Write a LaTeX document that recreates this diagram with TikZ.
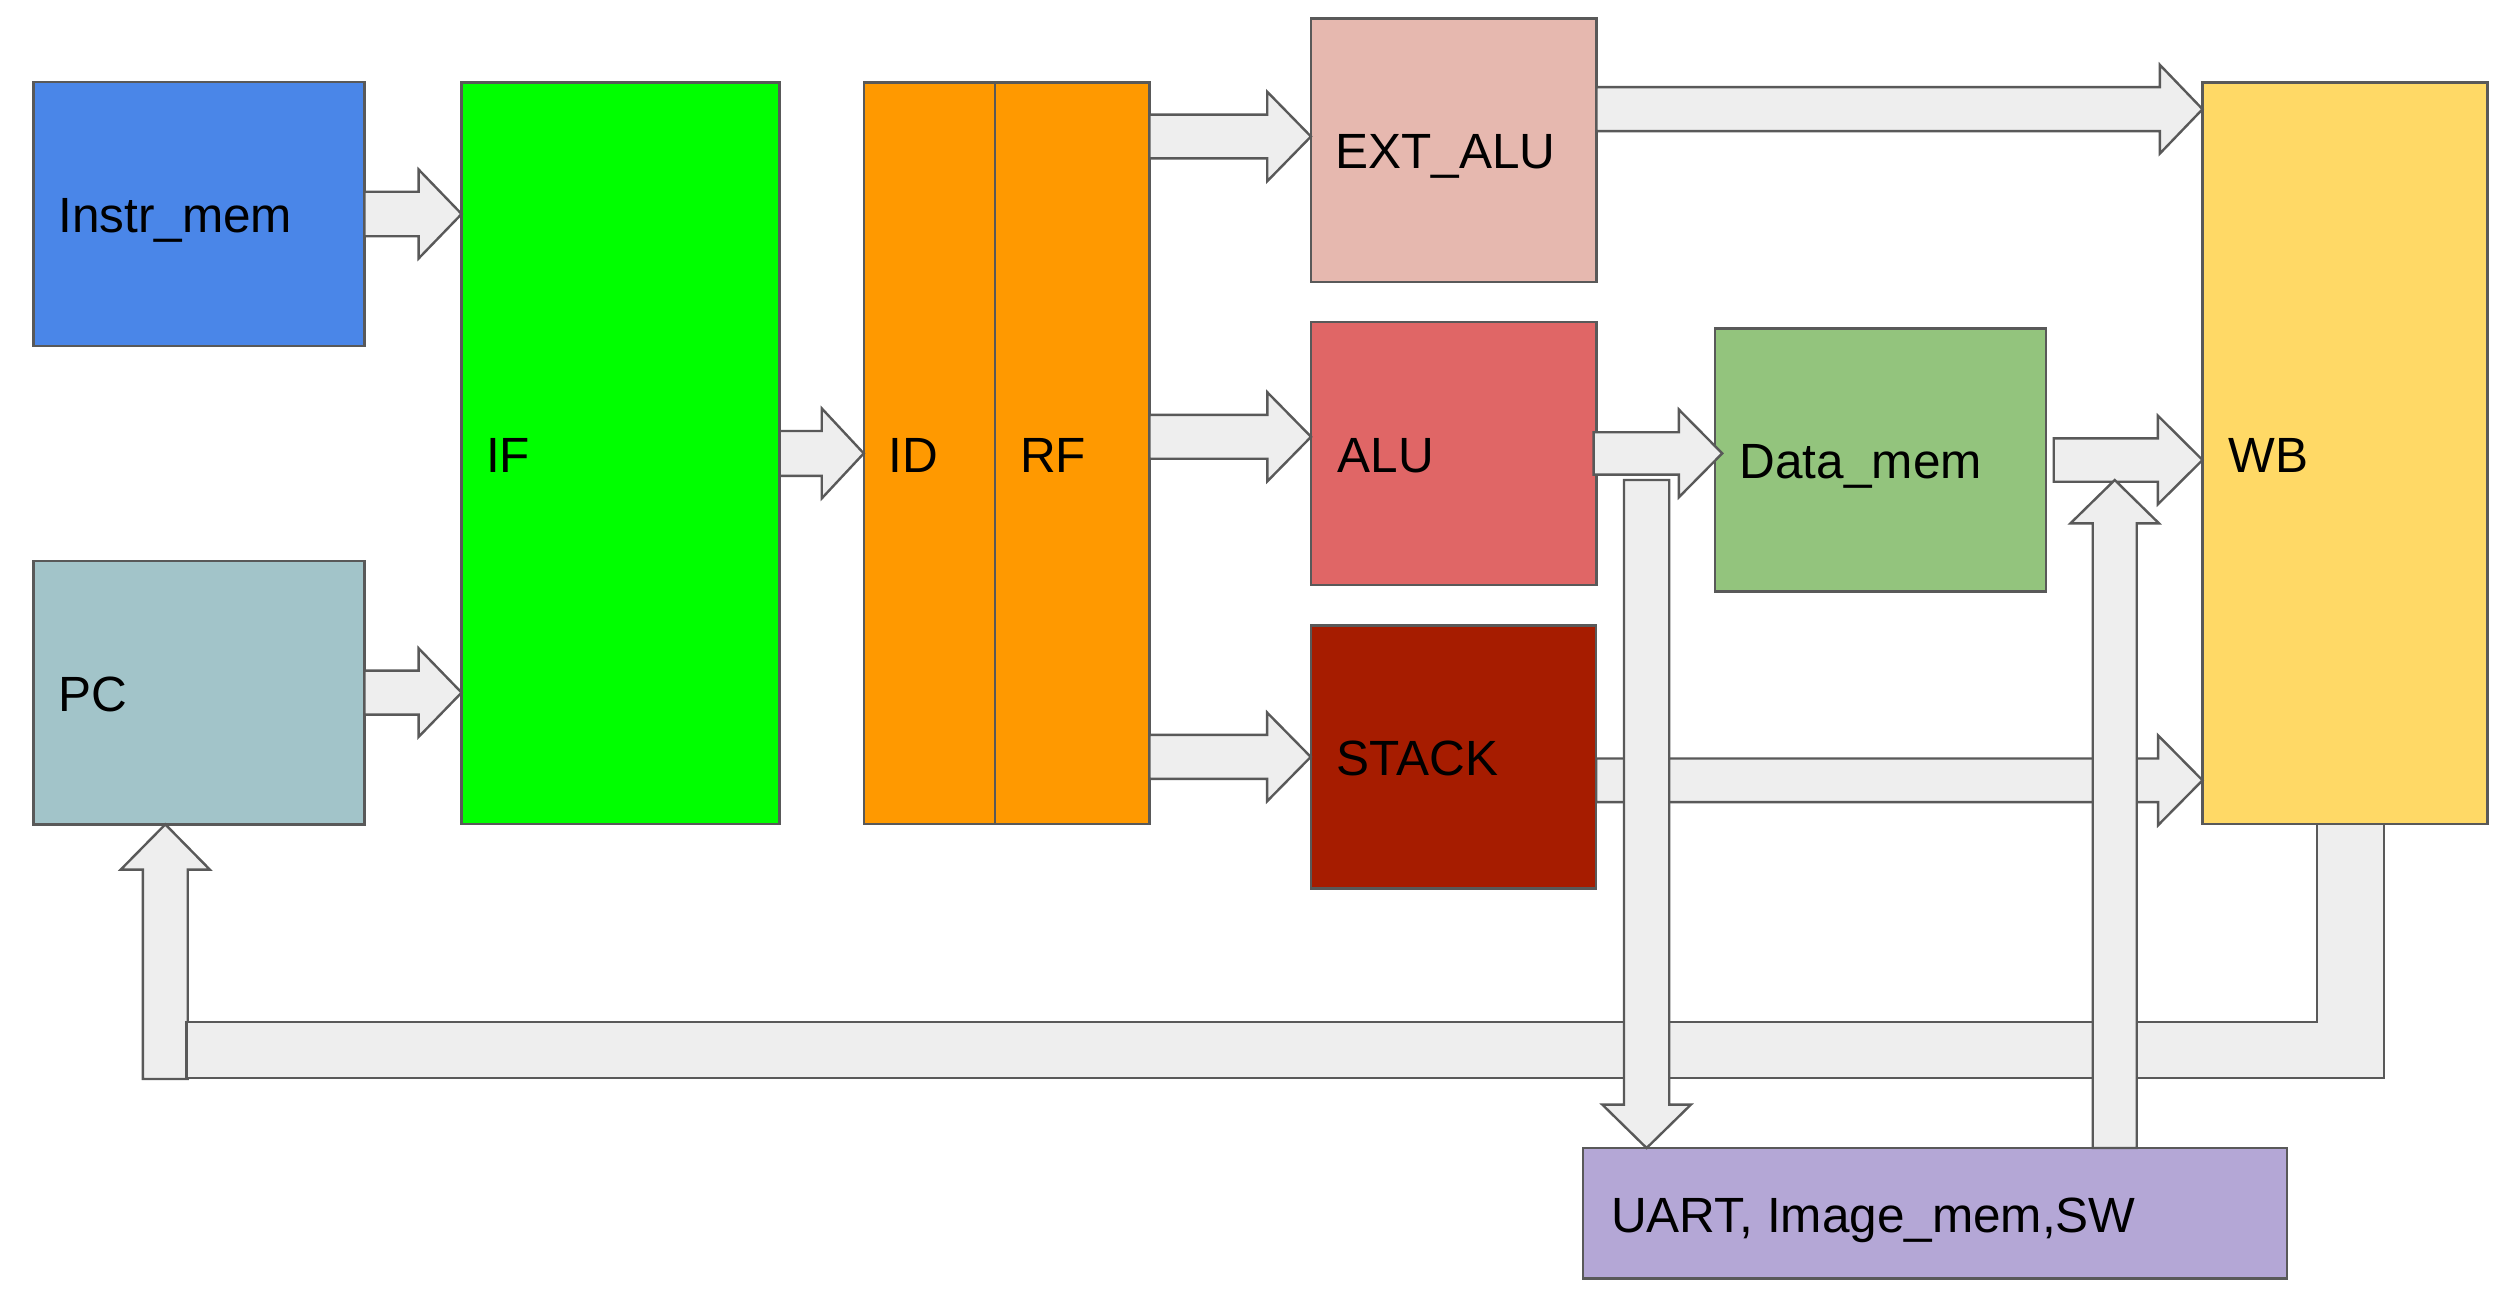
\documentclass[tikz,border=0pt]{standalone}
\usepackage{fontspec}
\setmainfont{Liberation Sans}
\usetikzlibrary{calc}
\definecolor{cLine}{HTML}{595959}
\definecolor{cArrow}{HTML}{EEEEEE}
\definecolor{cImem}{HTML}{4A86E8}
\definecolor{cIF}{HTML}{00FF00}
\definecolor{cID}{HTML}{FF9900}
\definecolor{cPC}{HTML}{A2C4C9}
\definecolor{cExt}{HTML}{E6B8AF}
\definecolor{cAlu}{HTML}{E06666}
\definecolor{cStack}{HTML}{A61C00}
\definecolor{cDmem}{HTML}{93C47D}
\definecolor{cWB}{HTML}{FFD966}
\definecolor{cUart}{HTML}{B4A7D6}
% #1 from, #2 tip, #3 shaft half width, #4 head half width, #5 head length
\newcommand{\blockarrow}[5]{%
  \coordinate (bab) at ($(#2)!#5!(#1)$);
  \draw[barrow] ($(#1)!#3!90:(#2)$) -- ($(bab)!#3!90:(#2)$) -- ($(bab)!#4!90:(#2)$) -- (#2)
     -- ($(bab)!#4!-90:(#2)$) -- ($(bab)!#3!-90:(#2)$) -- ($(#1)!#3!-90:(#2)$) -- cycle;
}
\begin{document}
\begin{tikzpicture}[x=1pt,y=-1pt,
  box/.style={draw=cLine, line width=2.4pt, rectangle, inner sep=0pt, outer sep=0pt},
  barrow/.style={draw=cLine, fill=cArrow, line width=2.4pt, line join=miter},
  lbl/.style={anchor=base west, inner sep=0pt, outer sep=0pt, font=\fontsize{49.5pt}{60pt}\selectfont}]
\useasboundingbox (0,0) rectangle (2513,1308);

% boxes
\node[box, fill=cImem, minimum width=331pt, minimum height=263.5pt] (imem) at (198.9,214) {};
\node[box, fill=cPC, minimum width=331pt, minimum height=263.5pt] (pc) at (198.8,692.6) {};
\node[box, fill=cIF, minimum width=318pt, minimum height=741.5pt] (if) at (620.6,453.4) {};
\node[box, fill=cID, minimum width=131.3pt, minimum height=741.5pt] (id) at (929.4,453.4) {};
\node[box, fill=cID, minimum width=154.3pt, minimum height=741.5pt] (rf) at (1072.2,453.4) {};
\node[box, fill=cExt, minimum width=285.5pt, minimum height=263.5pt] (extalu) at (1453.7,150.2) {};
\node[box, fill=cAlu, minimum width=285.5pt, minimum height=263pt] (alu) at (1453.8,453.4) {};
\node[box, fill=cStack, minimum width=285.5pt, minimum height=263pt] (stack) at (1453.5,756.9) {};
\node[box, fill=cDmem, minimum width=331pt, minimum height=263.3pt] (dmem) at (1880.7,460) {};
\node[box, fill=cWB, minimum width=285pt, minimum height=741.5pt] (wb) at (2345,453.4) {};
\node[box, fill=cUart, minimum width=704pt, minimum height=130.4pt] (uart) at (1934.7,1213.2) {};

% labels
\node[lbl] (imem-t) at ([xshift=25pt,yshift=-18.8pt]imem.west) {Instr\_mem};
\node[lbl] (pc-t) at ([xshift=25pt,yshift=-18.8pt]pc.west) {PC};
\node[lbl] (if-t) at ([xshift=24.5pt,yshift=-18.8pt]if.west) {IF};
\node[lbl] (id-t) at ([xshift=25pt,yshift=-18.8pt]id.west) {ID};
\node[lbl] (rf-t) at ([xshift=25pt,yshift=-18.8pt]rf.west) {RF};
\node[lbl] (extalu-t) at ([xshift=24.5pt,yshift=-18.8pt]extalu.west) {EXT\_ALU};
\node[lbl] (alu-t) at ([xshift=26.5pt,yshift=-18.8pt]alu.west) {ALU};
\node[lbl] (stack-t) at ([xshift=26pt,yshift=-18.8pt]stack.west) {STACK};
\node[lbl] (dmem-t) at ([xshift=24.5pt,yshift=-18.8pt]dmem.west) {Data\_mem};
\node[lbl] (wb-t) at ([xshift=26pt,yshift=-18.8pt]wb.west) {WB};
\node[lbl] (uart-t) at ([xshift=28.5pt,yshift=-18.8pt]uart.west) {UART, Image\_mem,SW};

% horizontal block arrows
\coordinate (a1e) at (imem.east -| if.west);
\blockarrow{imem.east}{a1e}{22.2pt}{44.5pt}{43pt}
\coordinate (a2e) at (pc.east -| if.west);
\blockarrow{pc.east}{a2e}{22pt}{44.3pt}{43pt}
\coordinate (a3e) at (if.east -| id.west);
\blockarrow{if.east}{a3e}{22.4pt}{45pt}{42pt}
\coordinate (a4e) at ([yshift=13.7pt]extalu.west);
\coordinate (a4s) at (rf.east |- a4e);
\blockarrow{a4s}{a4e}{21.9pt}{44.7pt}{43.7pt}
\coordinate (a5e) at ([yshift=16.6pt]alu.west);
\coordinate (a5s) at (rf.east |- a5e);
\blockarrow{a5s}{a5e}{21.9pt}{44.5pt}{43.7pt}
\coordinate (a6s) at (rf.east |- stack.west);
\blockarrow{a6s}{stack.west}{22pt}{44.4pt}{43.7pt}
\coordinate (a7s) at ([yshift=41pt]extalu.east);
\coordinate (a7e) at (a7s -| wb.west);
\blockarrow{a7s}{a7e}{22pt}{44.4pt}{42.7pt}
\coordinate (a8s) at ([xshift=-3pt]alu.east);
\coordinate (a8x) at (alu.east -| dmem.west);
\coordinate (a8e) at ([xshift=7pt]a8x);
\blockarrow{a8s}{a8e}{21.2pt}{43.8pt}{43.3pt}
\coordinate (a9s) at ([xshift=7.5pt]dmem.east);
\coordinate (a9e) at (dmem.east -| wb.west);
\blockarrow{a9s}{a9e}{21.7pt}{44.3pt}{44.6pt}
\coordinate (a10s) at ([yshift=-23.4pt]stack.east);
\coordinate (a10e) at (a10s -| wb.west);
\blockarrow{a10s}{a10e}{21.8pt}{44.9pt}{44.4pt}

% feedback from WB to PC
\coordinate (a14e) at ([xshift=-33.5pt]pc.south);
\coordinate (a14s) at ([yshift=-254.6pt]a14e);
\blockarrow{a14s}{a14e}{22.4pt}{44.5pt}{45.2pt}
\coordinate (fb1) at ([xshift=-27.8pt]wb.south);
\coordinate (fb2) at ([xshift=38.7pt]wb.south);
\coordinate (fbL) at (186.6,1078);
\draw[barrow] (fb1) -- (fb2) -- (fb2 |- fbL) -- (fbL) -- ++(0,-56) -- (fb1 |- 0,1022) -- cycle;

% vertical block arrows to/from UART
\coordinate (a11s) at (1646.6,480);
\coordinate (a11e) at (a11s |- uart.north);
\blockarrow{a11s}{a11e}{22.6pt}{44.3pt}{43.4pt}
\coordinate (a12s) at ([xshift=180pt]uart.north);
\coordinate (a12e) at (2114.7,480);
\blockarrow{a12s}{a12e}{22pt}{44.3pt}{43.4pt}
\end{tikzpicture}
\end{document}
